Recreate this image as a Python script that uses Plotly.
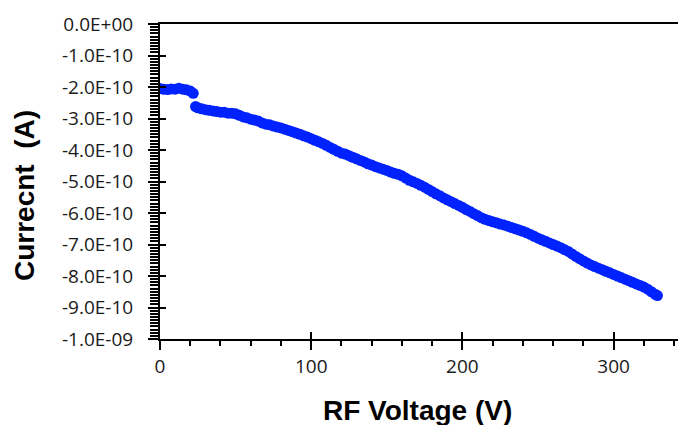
import plotly.graph_objects as go

# RF voltage (V)
rf_voltage = [0, 2.5, 5, 7.5, 10, 12.5, 15, 17.5, 20, 22, 23.5, 25, 27.5, 30, 32.5, 35, 37.5,
              40, 42.5, 45, 47.5, 50, 52.5, 55, 57.5, 60, 62.5, 65, 67.5, 70, 72.5, 75, 77.5,
              80, 82.5, 85, 87.5, 90, 92.5, 95, 97.5, 100, 102.5, 105, 107.5, 110, 112.5,
              115, 117.5, 120, 122.5, 125, 127.5, 130, 132.5, 135, 137.5, 140, 142.5, 145,
              147.5, 150, 152.5, 155, 157.5, 160, 162.5, 165, 167.5, 170, 172.5, 175, 177.5,
              180, 182.5, 185, 187.5, 190, 192.5, 195, 197.5, 200, 202.5, 205, 207.5, 210,
              212.5, 215, 217.5, 220, 222.5, 225, 227.5, 230, 232.5, 235, 237.5, 240, 242.5,
              245, 247.5, 250, 252.5, 255, 257.5, 260, 262.5, 265, 267.5, 270, 272.5, 275,
              277.5, 280, 282.5, 285, 287.5, 290, 292.5, 295, 297.5, 300, 302.5, 305, 307.5,
              310, 312.5, 315, 317.5, 320, 322.5, 325, 327.5, 329]
# Current (A), in units of 1E-10
current_e10 = [-2.05, -2.07, -2.08, -2.06, -2.07, -2.04, -2.07, -2.09, -2.13, -2.20, -2.62,
               -2.66, -2.69, -2.72, -2.74, -2.76, -2.78, -2.80, -2.80, -2.83, -2.83, -2.85,
               -2.90, -2.95, -2.98, -3.02, -3.05, -3.08, -3.14, -3.18, -3.20, -3.24, -3.27,
               -3.30, -3.34, -3.38, -3.42, -3.46, -3.50, -3.55, -3.59, -3.64, -3.69, -3.74,
               -3.79, -3.85, -3.92, -3.98, -4.04, -4.10, -4.13, -4.18, -4.23, -4.28, -4.33,
               -4.38, -4.44, -4.48, -4.53, -4.57, -4.61, -4.65, -4.70, -4.74, -4.77, -4.82,
               -4.89, -4.96, -5.01, -5.06, -5.12, -5.18, -5.25, -5.32, -5.39, -5.45, -5.52,
               -5.58, -5.64, -5.70, -5.76, -5.82, -5.89, -5.95, -6.02, -6.08, -6.15, -6.20,
               -6.24, -6.28, -6.31, -6.35, -6.38, -6.42, -6.46, -6.50, -6.54, -6.58, -6.63,
               -6.68, -6.74, -6.80, -6.85, -6.90, -6.95, -7.00, -7.05, -7.10, -7.16, -7.22,
               -7.30, -7.38, -7.45, -7.52, -7.59, -7.65, -7.70, -7.75, -7.80, -7.85, -7.90,
               -7.95, -8.00, -8.05, -8.10, -8.15, -8.20, -8.25, -8.30, -8.35, -8.42, -8.50,
               -8.58, -8.62]
current = [v * 1e-10 for v in current_e10]

y_tickvals = [0, -1e-10, -2e-10, -3e-10, -4e-10, -5e-10, -6e-10, -7e-10, -8e-10, -9e-10, -1e-9]
y_ticktext = ["0.0E+00", "-1.0E-10", "-2.0E-10", "-3.0E-10", "-4.0E-10", "-5.0E-10",
              "-6.0E-10", "-7.0E-10", "-8.0E-10", "-9.0E-10", "-1.0E-09"]
x_tickvals = [0, 100, 200, 300]
x_ticktext = ["0", "100", "200", "300"]

x_title = "RF Voltage (V)"
y_title = "Currecnt\u00a0 (A)"

X_RANGE = [0, 342.6]
Y_RANGE = [-1e-9, 0]

fig = go.Figure()
fig.add_trace(go.Scatter(x=rf_voltage, y=current, mode="markers",
                         marker=dict(color="#0022ff", size=11, line=dict(width=0)),
                         showlegend=False))
# invisible copy on overlay axes so the inner half of the crossing ticks is drawn
fig.add_trace(go.Scatter(x=rf_voltage, y=current, mode="markers", xaxis="x2", yaxis="y2",
                         marker=dict(opacity=0), hoverinfo="skip", showlegend=False))

tick_font = dict(family="Open Sans", size=19, color="#1a1a1a")

fig.update_layout(
    width=678, height=425,
    margin=dict(l=160, r=0, t=24, b=86),
    plot_bgcolor="white", paper_bgcolor="white",
    xaxis=dict(range=X_RANGE, tickvals=x_tickvals, ticktext=x_ticktext,
               ticks="outside", ticklen=9, tickwidth=2, tickcolor="black",
               minor=dict(dtick=20, tick0=0, ticks="outside", ticklen=5, tickwidth=2,
                          tickcolor="black", showgrid=False),
               showline=True, linecolor="black", linewidth=2, mirror=True,
               showgrid=False, zeroline=False, tickfont=tick_font),
    yaxis=dict(range=Y_RANGE, tickvals=y_tickvals, ticktext=y_ticktext,
               ticks="outside", ticklen=10, tickwidth=2, tickcolor="black",
               minor=dict(dtick=1e-11, tick0=0, ticks="outside", ticklen=8, tickwidth=2,
                          tickcolor="black", showgrid=False),
               showline=True, linecolor="black", linewidth=2,
               ticklabelstandoff=11,
               showgrid=False, zeroline=False, tickfont=tick_font),
    xaxis2=dict(range=X_RANGE, overlaying="x", anchor="y", side="bottom",
                tickvals=x_tickvals, showticklabels=False, ticks="inside", ticklen=7,
                tickwidth=2, tickcolor="black", showline=False, showgrid=False,
                zeroline=False),
    yaxis2=dict(range=Y_RANGE, overlaying="y", anchor="x", side="left",
                tickvals=y_tickvals, showticklabels=False, ticks="inside", ticklen=6,
                tickwidth=2, tickcolor="black", showline=False, showgrid=False,
                zeroline=False),
    annotations=[
        dict(text=x_title, xref="paper", yref="paper", x=0.498, y=-0.2254,
             showarrow=False, xanchor="center", yanchor="middle",
             font=dict(family="Liberation Sans", size=28, color="black", weight="bold")),
        dict(text=y_title, xref="paper", yref="paper", x=-0.2606, y=0.454,
             showarrow=False, xanchor="center", yanchor="middle", textangle=-90,
             font=dict(family="Liberation Sans", size=28, color="black", weight="bold")),
    ],
)

fig.write_html("out.html")
